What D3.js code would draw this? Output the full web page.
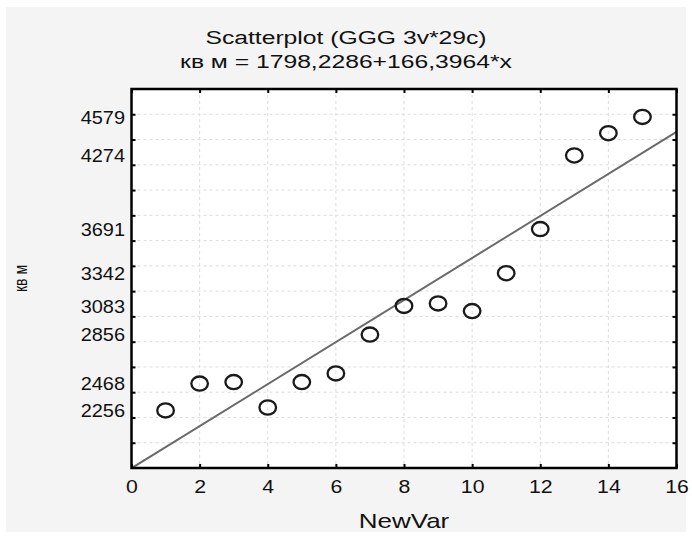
<!DOCTYPE html>
<html>
<head>
<meta charset="utf-8">
<script src="https://cdn.jsdelivr.net/npm/d3@7"></script>
<style>
  body { margin: 0; background: #ffffff; }
  text { font-family: "Liberation Sans", Arial, sans-serif; fill: #111; }
  .grid line { stroke: #dcdcdc; stroke-width: 1; stroke-dasharray: 3,3; }
</style>
</head>
<body>
<script>
// Width and height
var w = 692,
    h = 538;
var margin = {left: 131.5, right: 15.5, top: 89, bottom: 70};
var stretch = 1.3; // titles in the original are drawn a bit wide

// data
var xValues = [1, 2, 3, 4, 5, 6, 7, 8, 9, 10, 11, 12, 13, 14, 15];
var yValues = [2256, 2468, 2480, 2279, 2480, 2549, 2856, 3083, 3103, 3042, 3342, 3691, 4274, 4450, 4579];
var xTicks = [0, 2, 4, 6, 8, 10, 12, 14, 16];
var yTicks = [2000, 2200, 2400, 2600, 2800, 3000, 3200, 3400, 3600, 3800, 4000, 4200, 4400, 4600];
var yTickLabels = [2256, 2468, 2856, 3083, 3342, 3691, 4274, 4579];
var intercept = 1798.2286,
    slope = 166.3964;

var dataset = xValues.map(function(x, i) { return {x: x, y: yValues[i]}; });

var svg = d3.select('body')
            .append('svg')
            .attr('width', w)
            .attr('height', h);

// gray panel
svg.append('rect')
   .attr('x', 6).attr('y', 7)
   .attr('width', 680).attr('height', 525)
   .attr('fill', '#f4f4f4');

var xScale = d3.scaleLinear()
               .domain([0, 16])
               .range([margin.left, w - margin.right]);

var yScale = d3.scaleLinear()
               .domain([1800, 4800])
               .range([h - margin.bottom, margin.top]);

var x0 = xScale.range()[0], x1 = xScale.range()[1],
    y0 = yScale.range()[0], y1 = yScale.range()[1];

// plot background
svg.append('rect')
   .attr('x', x0).attr('y', y1)
   .attr('width', x1 - x0).attr('height', y0 - y1)
   .attr('fill', '#fff');

// grid
var grid = svg.append('g').attr('class', 'grid');
grid.selectAll('.gx')
    .data(xTicks.slice(1, -1))
    .enter().append('line')
    .attr('x1', function(d) { return xScale(d); })
    .attr('x2', function(d) { return xScale(d); })
    .attr('y1', y1).attr('y2', y0);
grid.selectAll('.gy')
    .data(yTicks)
    .enter().append('line')
    .attr('y1', function(d) { return yScale(d); })
    .attr('y2', function(d) { return yScale(d); })
    .attr('x1', x0).attr('x2', x1);

// clip for the fitted line
svg.append('clipPath').attr('id', 'plotClip')
   .append('rect')
   .attr('x', x0).attr('y', y1)
   .attr('width', x1 - x0).attr('height', y0 - y1);

var fitLine = d3.line()
                .x(function(d) { return xScale(d); })
                .y(function(d) { return yScale(intercept + slope * d); });

svg.append('path')
   .datum(xScale.domain())
   .attr('clip-path', 'url(#plotClip)')
   .attr('d', fitLine)
   .attr('fill', 'none')
   .attr('stroke', '#6a6a6a')
   .attr('stroke-width', 2);

// points (slightly wide, like the original)
svg.selectAll('ellipse')
   .data(dataset)
   .enter().append('ellipse')
   .attr('cx', function(d) { return xScale(d.x); })
   .attr('cy', function(d) { return yScale(d.y); })
   .attr('rx', 8.3)
   .attr('ry', 7.1)
   .attr('fill', 'none')
   .attr('stroke', '#1a1a1a')
   .attr('stroke-width', 2.3);

// axes, ticks pointing inward on all four sides
var xAxis = d3.axisBottom(xScale).tickValues(xTicks).tickSizeInner(-4).tickSizeOuter(0).tickPadding(12);
var xAxisTop = d3.axisTop(xScale).tickValues(xTicks).tickSizeInner(-4).tickSizeOuter(0).tickFormat('');
var yAxis = d3.axisLeft(yScale).tickValues(yTicks).tickSizeInner(-4).tickSizeOuter(0).tickFormat('');
var yAxisRight = d3.axisRight(yScale).tickValues(yTicks).tickSizeInner(-4).tickSizeOuter(0).tickFormat('');

function styleAxis(g) {
  g.select('.domain').remove();
  g.selectAll('.tick line').attr('stroke', '#000').attr('stroke-width', 2);
  g.selectAll('text')
   .attr('font-size', 19)
   .attr('font-family', '"Liberation Sans", Arial, sans-serif')
   .attr('fill', '#111')
   .attr('transform', 'scale(1.12,1)');
}

svg.append('g').attr('transform', 'translate(0,' + y0 + ')').call(xAxis).call(styleAxis);
svg.append('g').attr('transform', 'translate(0,' + y1 + ')').call(xAxisTop).call(styleAxis);
svg.append('g').attr('transform', 'translate(' + x0 + ',0)').call(yAxis).call(styleAxis);
svg.append('g').attr('transform', 'translate(' + x1 + ',0)').call(yAxisRight).call(styleAxis);

// y labels at the data values
svg.append('g')
   .selectAll('text')
   .data(yTickLabels)
   .enter().append('text')
   .attr('transform', function(d) {
     return 'translate(' + (x0 - 6.5) + ',' + yScale(d) + ') scale(1.05,1)';
   })
   .attr('dy', '0.35em')
   .attr('text-anchor', 'end')
   .attr('font-size', 19)
   .text(function(d) { return d; });

// frame
svg.append('rect')
   .attr('x', x0).attr('y', y1)
   .attr('width', x1 - x0).attr('height', y0 - y1)
   .attr('fill', 'none')
   .attr('stroke', '#000')
   .attr('stroke-width', 2.5);

// titles
function wideText(x, y, size, str, rot) {
  return svg.append('text')
            .attr('transform', 'translate(' + x + ',' + y + ')' + (rot ? ' rotate(-90) scale(1,' + stretch + ')' : ' scale(' + stretch + ',1)'))
            .attr('text-anchor', 'middle')
            .attr('font-size', size)
            .text(str);
}

wideText(346, 44, 19, 'Scatterplot (GGG 3v*29c)');
wideText(346, 68, 19, 'кв м = 1798,2286+166,3964*x');
wideText((x0 + x1) / 2, 528, 20, 'NewVar');
wideText(27, (y0 + y1) / 2, 14, 'кв м', true);
</script>
</body>
</html>
